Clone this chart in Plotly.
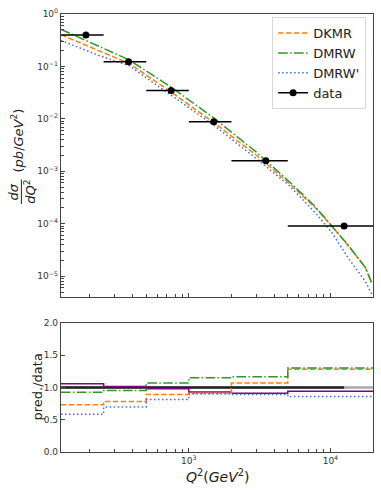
import numpy as np
import plotly.graph_objects as go

# Q^2 bins of the measurement
bin_lo = [125, 250, 500, 1000, 2000, 5000]
bin_hi = [250, 500, 1000, 2000, 5000, 20000]
q2_centers = [187.5, 375, 750, 1500, 3500, 12500]
xsec = [0.396, 0.1227, 0.0348, 0.00878, 0.00159, 9.05e-5]

# prediction curves
q2_dmrw = [125, 236, 379, 752, 1499, 2972, 5093, 7850, 10260, 13430, 17620, 19600]
dmrw = [0.510, 0.238, 0.133, 0.0402, 0.01044, 0.00238, 6.47e-4, 2.09e-4, 9.16e-5, 3.84e-5, 1.48e-5, 7.38e-6]

q2_dkmr = [125, 236, 379, 752, 1499, 2972, 5093, 7850, 10260, 13430, 17620, 19600]
dkmr = [0.402, 0.192, 0.114, 0.0323, 0.00851, 0.00207, 5.94e-4, 2.0e-4, 8.97e-5, 3.76e-5, 1.48e-5, 7.7e-6]

q2_dmrwp = [125, 236, 379, 752, 1499, 2972, 5093, 7850, 10260, 13430, 17620, 19600]
dmrwp = [0.313, 0.159, 0.103, 0.028, 0.0076, 0.00178, 5.44e-4, 1.61e-4, 6.76e-5, 2.19e-5, 8.05e-6, 4.57e-6]

# pred./data ratios per bin
ratio_dkmr = [0.73, 0.784, 0.89, 0.91, 1.07, 1.28]
ratio_dmrw = [0.927, 0.953, 1.067, 1.15, 1.165, 1.30]
ratio_dmrwp = [0.583, 0.696, 0.815, 0.90, 0.89, 0.86]
ratio_other = [1.057, 1.015, 0.98, 0.93, 0.91, 0.94]

ORANGE = "#ff7f0e"
GREEN = "#2a9a2a"
BLUE = "#4169e1"
PURPLE = "#800080"
FONT = "DejaVu Sans"
# matplotlib-like dash patterns
DASH = "5.5px,2.4px"
DASHDOT = "9.6px,2.4px,1.5px,2.4px"
DOT = "1.5px,2.5px"

fig = go.Figure()

fig.add_trace(go.Scatter(x=q2_dkmr, y=dkmr, mode="lines", name="DKMR",
                         line=dict(color=ORANGE, width=1.5, dash=DASH)))
fig.add_trace(go.Scatter(x=q2_dmrw, y=dmrw, mode="lines", name="DMRW",
                         line=dict(color=GREEN, width=1.5, dash=DASHDOT)))
fig.add_trace(go.Scatter(x=q2_dmrwp, y=dmrwp, mode="lines", name="DMRW'",
                         line=dict(color=BLUE, width=1.5, dash=DOT)))

err_plus = [h - c for h, c in zip(bin_hi, q2_centers)]
err_minus = [c - l for l, c in zip(bin_lo, q2_centers)]
fig.add_trace(go.Scatter(x=q2_centers, y=xsec, mode="markers", showlegend=False,
                         marker=dict(color="black", size=7),
                         error_x=dict(type="data", array=err_plus, arrayminus=err_minus,
                                      color="black", thickness=1.5, width=0)))
# legend entry for data (marker + line like an errorbar)
fig.add_trace(go.Scatter(x=[None], y=[None], mode="lines+markers", name="data",
                         marker=dict(color="black", size=7),
                         line=dict(color="black", width=1.5)))

# ratio panel: step histograms
edges = bin_lo + [bin_hi[-1]]
def steps(vals):
    return vals + [vals[-1]]

fig.add_trace(go.Scatter(x=[125, 20000], y=[1, 1], mode="lines", showlegend=False,
                         line=dict(color="#a8a8a8", width=2.5), xaxis="x2", yaxis="y2"))
fig.add_trace(go.Scatter(x=[125, 12500], y=[1, 1], mode="lines", showlegend=False,
                         line=dict(color="#222222", width=2.5), xaxis="x2", yaxis="y2"))
fig.add_trace(go.Scatter(x=edges, y=steps(ratio_other), mode="lines", line_shape="hv",
                         showlegend=False, line=dict(color=PURPLE, width=1.5),
                         xaxis="x2", yaxis="y2"))
fig.add_trace(go.Scatter(x=edges, y=steps(ratio_dkmr), mode="lines", line_shape="hv",
                         showlegend=False, line=dict(color=ORANGE, width=1.5, dash=DASH),
                         xaxis="x2", yaxis="y2"))
fig.add_trace(go.Scatter(x=edges, y=steps(ratio_dmrw), mode="lines", line_shape="hv",
                         showlegend=False, line=dict(color=GREEN, width=1.5, dash=DASHDOT),
                         xaxis="x2", yaxis="y2"))
fig.add_trace(go.Scatter(x=edges, y=steps(ratio_dmrwp), mode="lines", line_shape="hv",
                         showlegend=False, line=dict(color=BLUE, width=1.5, dash=DOT),
                         xaxis="x2", yaxis="y2"))

x_minor = [200, 300, 400, 500, 600, 700, 800, 900,
           2000, 3000, 4000, 5000, 6000, 7000, 8000, 9000, 20000]
y_minor = [m * 10.0 ** e for e in range(-6, 0) for m in range(2, 10)]

axis_common = dict(showline=True, mirror=True, linecolor="#444444", linewidth=1.2,
                   ticks="inside", tickcolor="#444444", ticklen=4, showgrid=False,
                   zeroline=False, tickfont=dict(family=FONT, size=9, color="#333333"))
xcommon = dict(type="log", range=[np.log10(125), np.log10(20000)],
               tickvals=[1000, 10000], ticktext=["10<sup>3</sup>", "10<sup>4</sup>"],
               minor=dict(tickvals=x_minor, ticks="inside", ticklen=2.5, tickcolor="#444444"),
               **axis_common)

fig.update_layout(
    width=381, height=491,
    margin=dict(l=61, r=7, t=11, b=39),
    plot_bgcolor="white", paper_bgcolor="white",
    font=dict(family=FONT, color="#222222"),
    xaxis=dict(domain=[0, 1], anchor="y", showticklabels=False, **xcommon),
    yaxis=dict(domain=[0.3537, 1], anchor="x", type="log",
               range=[np.log10(4e-6), 0],
               tickvals=[1, 0.1, 0.01, 0.001, 1e-4, 1e-5],
               ticktext=["10<sup>0</sup>", "10<sup>−1</sup>", "10<sup>−2</sup>",
                         "10<sup>−3</sup>", "10<sup>−4</sup>", "10<sup>−5</sup>"],
               minor=dict(tickvals=y_minor, ticks="inside", ticklen=2.5, tickcolor="#444444"),
               **axis_common),
    xaxis2=dict(domain=[0, 1], anchor="y2", **xcommon),
    yaxis2=dict(domain=[0, 0.2948], anchor="x2", range=[0, 2],
                tickvals=[0, 0.5, 1, 1.5, 2], ticktext=["0.0", "0.5", "1.0", "1.5", "2.0"],
                **axis_common),
    legend=dict(x=0.978, y=0.993, xanchor="right", yanchor="top",
                bgcolor="white", bordercolor="#d8d8d8", borderwidth=1,
                font=dict(family=FONT, size=13, color="#222222"),
                itemwidth=30, tracegroupgap=0),
    showlegend=True,
)

label = dict(xref="paper", yref="paper", showarrow=False, xanchor="center",
             yanchor="middle", font=dict(family=FONT, size=13, color="#222222"))

# y title of the upper panel: d sigma / dQ^2 (pb/GeV^2)
fig.add_annotation(text="<i>dσ</i>", x=-0.152, y=0.594, textangle=-90, **label)
fig.add_annotation(text="<i>dQ</i><sup>2</sup>", x=-0.100, y=0.594, textangle=-90, **label)
fig.add_shape(type="line", xref="paper", yref="paper", x0=-0.127, x1=-0.127,
              y0=0.566, y1=0.622, line=dict(color="#222222", width=1))
fig.add_annotation(text="(<i>pb</i>/<i>GeV</i><sup>2</sup>)", x=-0.140, y=0.712,
                   textangle=-90, **label)

fig.add_annotation(text="pred./data", x=-0.076, y=0.148, textangle=-90, **label)
fig.add_annotation(text="<i>Q</i><sup>2</sup>(<i>GeV</i><sup>2</sup>)", x=0.5, y=-0.055,
                   **dict(label, font=dict(family=FONT, size=14, color="#222222")))

fig.write_html("out.html", config={"displayModeBar": False},
               post_script="document.body.style.margin = '0px';")
